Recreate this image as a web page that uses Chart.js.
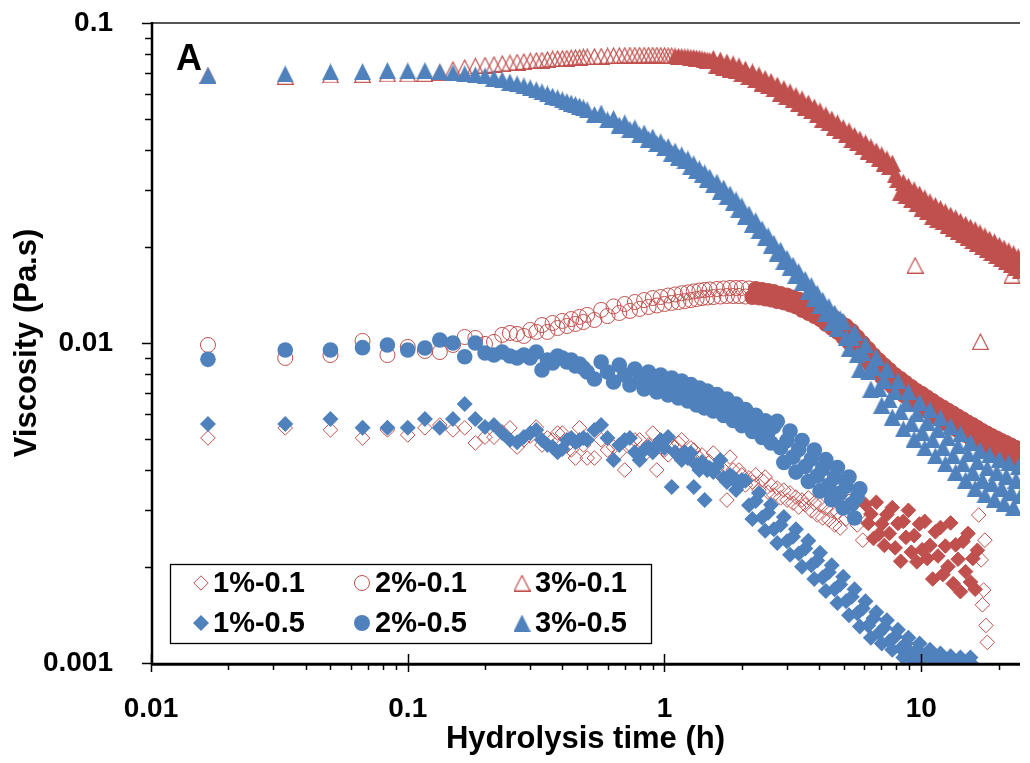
<!DOCTYPE html>
<html>
<head>
<meta charset="utf-8">
<script src="https://cdn.jsdelivr.net/npm/chart.js@4.4.1/dist/chart.umd.min.js"></script>
<style>
html,body{margin:0;padding:0;background:#fff;overflow:hidden}
canvas{display:block}
</style>
</head>
<body>
<canvas id="c" width="1030" height="763"></canvas>
<script>
// ---- data: hydrolysis time in minutes, viscosity in mPa.s (plotted in h and Pa.s) ----
const seriesNames = ['1%-0.1', '2%-0.1', '3%-0.1', '1%-0.5', '2%-0.5', '3%-0.5'];

const timeMin = [
  1, 2, 3, 4, 5, 6, 7, 8, 9, 10, 11, 12, 13, 14, 15, 16, 17, 18, 19, 20, 21, 22, 23, 24, 25, 26, 27, 28, 29, 30,
  32, 34, 36, 38, 40, 42, 44, 46, 48, 50, 52, 54, 56, 58, 60,
  62, 64, 66, 68, 70, 72, 74, 76, 78, 80, 82, 84, 86, 88, 90,
  93, 96, 99, 102, 105, 108, 111, 114, 117, 120,
  124, 128, 132, 136, 140, 144, 148, 152, 156, 160,
  165, 170, 175, 180, 185, 190, 195, 200,
  206, 212, 218, 224, 230, 236, 242, 248,
  255, 262, 269, 276, 283, 290,
  298, 306, 314, 322, 330, 338, 346,
  355, 364, 373, 382, 391,
  401, 411, 421, 431, 441, 451,
  463, 475, 487, 499, 511, 523, 535,
  549, 563, 577, 591, 605, 619, 633,
  649, 665, 681, 697, 713, 729, 745,
  763, 781, 799, 817, 835, 853,
  873, 893, 913, 933, 953, 973, 993,
  1016, 1039, 1062, 1085, 1108, 1131,
  1157, 1183, 1209, 1235, 1261, 1287,
  1316, 1345, 1374, 1403, 1432, 1461
];

const visc3pct05_mPas = [
  68.5, 69.3, 70.3, 70.5, 71.0, 70.8, 71.0, 70.3, 69.8, 69.3, 68.8, 68.3, 67.3, 66.4, 65.4, 64.5, 63.6, 62.7, 61.8, 60.9, 60.0, 59.1, 58.3, 57.5, 56.8, 56.2, 55.6, 55.0, 54.3, 53.5,
  51.8, 52.3, 49.8, 50.3, 48.0, 48.7, 46.5, 47.0, 44.7, 45.3, 43.4, 44.0, 42.0, 42.5, 40.7,
  41.1, 39.2, 39.8, 38.1, 38.7, 37.1, 37.6, 35.7, 36.3, 34.6, 35.0, 33.5, 34.0, 32.5, 33.0,
  31.2, 31.8, 29.8, 30.5, 28.6, 29.2, 27.4, 28.0, 26.2, 26.8,
  24.9, 25.3, 23.5, 24.1, 22.4, 22.7, 21.3, 21.6, 20.1, 20.5,
  19.1, 19.5, 18.0, 18.4, 17.2, 17.5, 16.3, 16.7,
  15.4, 15.8, 14.5, 15.1, 13.8, 14.3, 13.1, 13.6,
  12.4, 13.0, 11.6, 12.4, 11.1, 11.9,
  11.7, 10.4, 9.58, 10.4, 10.8, 9.19, 8.29,
  9.33, 9.86, 8.12, 7.18, 8.40,
  9.04, 7.23, 6.40, 7.66, 8.29, 6.64,
  5.87, 7.03, 7.61, 6.09, 5.39, 6.45, 7.03,
  5.62, 5.01, 6.00, 6.54, 5.27, 4.70, 5.66,
  6.18, 4.98, 4.44, 5.35, 5.83, 4.70, 4.19,
  5.05, 5.50, 4.44, 3.95, 4.77, 5.20,
  4.19, 3.73, 4.50, 4.90, 3.95, 3.52, 4.25,
  4.63, 3.73, 3.35, 4.07, 4.47, 3.63,
  3.25, 3.95, 4.34, 3.52, 3.16, 3.84,
  4.22, 3.42, 3.07, 3.73, 4.10, 3.33
];

const visc3pct01_mPas = [
  68.3, 68.1, 68.8, 69.0, 69.3, 69.3, 69.5, 70.0, 71.6, 72.6, 73.4, 73.9, 74.2, 74.7, 75.0, 75.5, 75.8, 76.1, 76.4, 76.6, 76.9, 77.2, 77.4, 77.5, 77.7, 77.9, 78.0, 78.1, 78.3, 78.4,
  78.6, 78.8, 78.9, 79.1, 79.2, 79.3, 79.4, 79.4, 79.4, 79.4, 79.4, 79.4, 79.4, 79.3, 79.2,
  79.1, 79.0, 78.9, 78.7, 78.6, 78.4, 78.3, 78.1, 78.0, 77.7, 77.5, 77.2, 76.9, 76.6, 76.4,
  77.5, 73.9, 76.6, 72.8, 75.5, 71.8, 74.5, 70.8, 73.4, 69.5,
  71.8, 68.1, 70.3, 66.6, 68.8, 64.9, 67.1, 63.6, 65.7, 62.2,
  64.0, 60.4, 62.4, 59.1, 60.9, 57.5, 59.3, 56.2,
  57.9, 54.6, 56.2, 53.1, 54.6, 51.6, 53.1, 50.1,
  51.6, 48.7, 50.1, 47.3, 48.7, 46.0,
  47.1, 44.7, 46.0, 43.2, 44.5, 42.2, 43.4,
  41.0, 42.2, 39.8, 41.0, 38.7,
  39.8, 37.6, 38.7, 36.5, 37.6, 35.5,
  36.5, 33.5, 32.5, 29.6, 31.8, 28.8, 30.9,
  28.0, 30.1, 27.2, 29.2, 26.4, 28.4, 25.7,
  27.6, 24.9, 26.9, 24.4, 26.3, 23.9, 25.7,
  23.3, 25.1, 22.8, 24.6, 22.3, 24.0,
  21.8, 23.5, 21.4, 23.0, 20.9, 22.6, 20.5,
  22.1, 20.0, 21.6, 19.6, 21.1, 19.2,
  20.7, 18.8, 20.2, 18.4, 19.8, 18.0,
  19.4, 17.6, 19.0, 17.2, 18.6, 16.9
];
const outlierMin3pct01 = [568, 1020, 1355];
const outlierVisc3pct01_mPas = [17.5, 10.1, 16.3];

const visc2pct01_mPas = [
  9.86, 8.98, 9.17, 10.15, 9.17, 9.72, 9.44, 9.37, 9.86, 10.44, 10.37, 9.93, 10.08, 10.60, 10.75, 10.67, 10.52, 10.98, 10.83, 11.38, 10.83, 11.55, 11.14, 11.72, 11.30, 11.88, 11.47, 12.06, 11.63, 12.24,
  11.80, 12.69, 12.14, 13.01, 12.41, 13.24, 12.60, 13.43, 12.78, 13.62, 12.96, 13.82, 13.10, 13.92, 13.24,
  14.07, 13.34, 14.18, 13.43, 14.30, 13.52, 14.39, 13.62, 14.49, 13.72, 14.59, 13.82, 14.65, 13.87, 14.70,
  13.92, 14.75, 13.97, 14.81, 14.02, 14.86, 14.02, 14.86, 14.02, 14.86,
  13.97, 14.81, 13.92, 14.75, 13.87, 14.65, 13.77, 14.54, 13.67, 14.43,
  13.52, 14.23, 13.39, 14.07, 13.19, 13.87, 13.01, 13.67,
  12.69, 13.48, 12.41, 13.19, 12.14, 12.91, 11.88, 12.60,
  11.47, 12.32, 11.14, 11.97, 10.83, 11.63,
  10.41, 11.30, 10.04, 10.91, 9.65, 10.44, 9.24,
  10.00, 8.85, 9.58, 8.48, 9.17,
  8.12, 8.82, 7.83, 8.51, 7.55, 8.24,
  7.31, 7.94, 7.08, 7.72, 6.88, 7.50, 6.68,
  7.29, 6.49, 7.08, 6.33, 6.93, 6.18, 6.76,
  6.02, 6.59, 5.87, 6.42, 5.75, 6.29, 5.62,
  6.15, 5.50, 6.02, 5.39, 5.89, 5.27,
  5.77, 5.16, 5.64, 5.05, 5.54, 4.96, 5.43,
  4.85, 5.31, 4.77, 5.21, 4.68, 5.12,
  4.60, 5.03, 4.52, 4.94, 4.44, 4.87,
  4.36, 4.78, 4.28, 4.70, 4.22, 4.63
];

const visc2pct05_mPas = [
  8.89, 9.51, 9.51, 9.67, 9.86, 9.51, 9.65, 10.22, 10.00, 9.06, 10.00, 9.31, 9.17, 9.37, 9.11, 8.98, 9.17, 8.98, 9.37, 8.24, 8.85, 8.66, 9.11, 8.98, 8.72, 8.85, 8.48, 8.60, 8.35, 8.12,
  7.72, 8.72, 8.12, 7.55, 8.54, 7.94, 7.39, 8.29, 7.72, 7.18, 8.12, 7.55, 7.03, 7.94, 7.39,
  6.88, 7.77, 7.23, 6.73, 7.61, 7.08, 6.59, 7.42, 6.88, 6.40, 7.23, 6.73, 6.27, 7.08, 6.59,
  6.13, 6.90, 6.40, 5.94, 6.68, 6.18, 5.73, 6.45, 5.96, 5.52,
  6.20, 5.73, 5.29, 5.94, 5.48, 5.07, 5.71, 5.27, 4.87, 5.48,
  5.69, 4.71, 4.23, 4.96, 5.31, 4.40, 3.95, 4.65,
  4.96, 4.11, 3.69, 4.34, 4.63, 3.84, 3.45, 4.05,
  4.32, 3.59, 3.24, 3.80, 4.08, 3.39,
  3.05, 3.57, 3.81, 3.14, 2.84, 3.30, 3.50,
  null, null, null, null, null,
  null, null, null, null, null, null,
  null, null, null, null, null, null, null,
  null, null, null, null, null, null, null,
  null, null, null, null, null, null, null,
  null, null, null, null, null, null,
  null, null, null, null, null, null, null,
  null, null, null, null, null, null,
  null, null, null, null, null, null,
  null, null, null, null, null, null
];

const visc1pct05_mPas = [
  5.58, 5.58, 5.79, 5.43, 5.43, 5.43, 5.79, 5.43, 5.79, 6.45, 5.79, 5.46, 5.54, 5.23, 4.98, 4.90, 5.08, 5.23, 5.35, 4.98, 4.80, 4.73, 4.56, 4.66, 4.98, 5.05, 4.90, 4.98, 5.05, 4.98,
  5.35, 5.54, 5.05, 4.31, 4.80, 4.98, 5.05, 4.56, 4.31, 4.63, 4.73, 4.56, 4.80, 4.98, 4.70,
  5.08, 3.55, 4.56, 4.44, 4.31, 4.56, 4.37, 4.53, 3.55, 4.16, 4.01, 4.25, 3.23, 4.01, 4.07,
  3.95, 4.13, 4.31, 3.79, 3.68, 3.87, 3.81, 3.47, 3.60, 3.73,
  3.71, 3.11, 2.82, 3.21, 3.40, 2.85, 2.59, 2.95, 3.12, 2.62,
  2.37, 2.70, 2.86, 2.40, 2.18, 2.48, 2.62, 2.20,
  2.00, 2.28, 2.41, 2.02, 1.83, 2.09, 2.21, 1.85,
  1.68, 1.92, 2.02, 1.70, 1.54, 1.76,
  1.86, 1.56, 1.41, 1.61, 1.70, 1.43, 1.30,
  1.48, 1.56, 1.31, 1.20, 1.38,
  1.44, 1.24, 1.15, 1.29, 1.36, 1.17,
  1.10, 1.21, 1.27, 1.11, 1.04, 1.15, 1.20,
  1.07, 1.01, 1.10, 1.15, 1.03, 0.979, 1.07,
  1.10, 1.01, 0.965, 1.04, 1.07, 0.995, 0.951,
  1.02, 1.05, 0.986, 0.958, 1.01, 1.04,
  0.986, 0.958, 1.01, 1.04, 0.986, null, null,
  null, null, null, null, null, null,
  null, null, null, null, null, null,
  null, null, null, null, null, null
];

const visc1pct01_mPas = [
  5.05, 5.43, 5.35, 5.05, 5.35, 5.16, 5.43, 5.54, 5.35, 5.43, 4.87, 5.08, 5.08, 5.27, 5.43, 4.73, 4.98, 5.12, 5.46, 4.80, 5.05, 4.98, 5.23, 5.23, 4.77, 4.63, 4.37, 5.43, 4.80, 4.37,
  4.37, 4.98, 4.63, 4.73, 4.56, 4.01, 4.80, 4.98, 4.98, 4.47, 4.80, 5.23, 4.01, 4.73, 4.63,
  4.47, 4.80, 4.73, 4.87, 4.98, 4.47, 4.37, 4.70, 4.63, 4.25, 4.37, 4.47, 4.13, 4.01, 4.25,
  4.53, 4.07, 3.87, 4.01, 3.23, 4.40, 4.01, 3.73, 4.01, 3.87,
  3.60, 3.79, 3.68, 3.87, 3.47, 3.73, 3.81, 3.42, 3.60, 3.35,
  3.52, 3.28, 3.47, 3.23, 3.40, 3.16, 3.30, 3.07,
  3.23, 3.12, 3.28, 2.99, 3.16, 2.90, 3.12, 2.84,
  3.05, 2.80, 2.99, 2.70, 2.96, 2.64,
  3.12, 2.82, 3.20, 2.89, 3.24, 2.70, 2.94,
  2.42, 3.13, 2.73, 2.92, 2.45,
  3.18, 2.53, 2.72, 2.33, 2.91, 2.54,
  3.06, 2.29, 2.73, 2.08, 2.77, 2.47, 3.00,
  2.22, 2.50, 2.07, 2.72, 2.26, 2.77, 2.12,
  2.33, 1.83, 2.57, 2.16, 2.65, 1.89, 2.32,
  2.00, 2.74, 1.77, 2.34, 2.11, 1.67,
  2.40, 1.93, 2.54, 1.79, 2.12, 1.70, 2.25,
  3.47, 1.52, 2.42, 1.16, null, null,
  null, null, null, null, null, null,
  null, null, null, null, null, null
];
const extraMin1pct01 = [1005, 1027, 1050, 1072];
const extraVisc1pct01_mPas = [2.90, 2.10, 1.69, 1.31];

// ---- styling ----
const BLUE = '#4F81BD';
const RED = '#C0504D';
const FONT = "'Liberation Sans', Arial, Helvetica, sans-serif";
// time ranges (h) where the 1-minute sampling makes the open red markers merge into a solid band
const denseFromHours = { '1%-0.1': 6.0, '2%-0.1': 2.2, '3%-0.1': 1.1 };
const denseUntilHours = { '1%-0.1': 16.6, '2%-0.1': 99, '3%-0.1': 99 };

function toPoints(mins, valsMPas, isolated) {
  const out = [];
  for (let i = 0; i < mins.length; i++) {
    const v = valsMPas[i];
    if (v !== null && v !== undefined) {
      const p = { x: mins[i] / 60, y: v / 1000 };
      if (isolated) p.iso = true;
      out.push(p);
    }
  }
  return out;
}

function triangleImage(fill, stroke, lw) {
  const w = 17, h = 17;
  const c = document.createElement('canvas');
  c.width = w; c.height = h;
  const g = c.getContext('2d');
  g.beginPath();
  if (fill) {
    g.moveTo(w / 2, 0); g.lineTo(w, h); g.lineTo(0, h); g.closePath();
    g.fillStyle = fill; g.fill();
  } else {
    const m = lw / 2 + 0.1;
    g.moveTo(w / 2, m + 0.4); g.lineTo(w - m, h - m); g.lineTo(m, h - m); g.closePath();
    g.strokeStyle = stroke; g.lineWidth = lw; g.stroke();
  }
  return c;
}
const triBlue = triangleImage(BLUE, null, 0);
const triRed = triangleImage(null, RED, 1.2);
const triRedDense = triangleImage(RED, null, 0);

function isDense(ctx) {
  const name = ctx.dataset.label;
  const p = ctx.raw;
  return !!p && !p.iso && p.x >= denseFromHours[name] && p.x <= denseUntilHours[name];
}

function isDecade(v) {
  const l = Math.log10(v);
  return Math.abs(l - Math.round(l)) < 1e-6;
}
function decadeLabel(v) {
  return isDecade(v) ? String(Number(Number(v).toPrecision(6))) : '';
}

const axesPlugin = {
  id: 'axesPlugin',
  afterDatasetsDraw(chart) {
    const { ctx, chartArea: a, scales } = chart;
    const xs = scales.x, ys = scales.y;
    ctx.save();
    ctx.strokeStyle = '#555';
    ctx.lineWidth = 2;
    ctx.beginPath(); ctx.moveTo(a.left, a.top); ctx.lineTo(a.right, a.top); ctx.stroke();
    ctx.strokeStyle = '#000';
    ctx.lineWidth = 1.5;
    for (let e = -3; e <= -1; e++) {
      for (let m = 1; m <= 9; m++) {
        const v = m * Math.pow(10, e);
        if (v > 0.1 * 1.0001) continue;
        const py = Math.round(ys.getPixelForValue(v)) + 0.5;
        const len = m === 1 ? 9 : 6;
        ctx.beginPath(); ctx.moveTo(a.left - len, py); ctx.lineTo(a.left, py); ctx.stroke();
      }
    }
    for (let e = -2; e <= 1; e++) {
      for (let m = 1; m <= 9; m++) {
        const v = m * Math.pow(10, e);
        if (v > xs.max) continue;
        const px = Math.round(xs.getPixelForValue(v)) + 0.5;
        ctx.beginPath();
        if (m === 1) { ctx.moveTo(px, a.bottom - 9); ctx.lineTo(px, a.bottom + 9); }
        else { ctx.moveTo(px, a.bottom); ctx.lineTo(px, a.bottom + 7); }
        ctx.stroke();
      }
    }
    ctx.lineWidth = 2.5;
    ctx.beginPath(); ctx.moveTo(a.left + 1, a.top - 1); ctx.lineTo(a.left + 1, a.bottom + 2); ctx.stroke();
    ctx.lineWidth = 3;
    ctx.beginPath(); ctx.moveTo(a.left, a.bottom + 1.3); ctx.lineTo(a.right, a.bottom + 1.3); ctx.stroke();
    ctx.restore();
  },
  afterDraw(chart) {
    const ctx = chart.ctx;
    ctx.save();
    ctx.fillStyle = '#000';
    ctx.font = 'bold 36px ' + FONT;
    ctx.textAlign = 'left';
    ctx.textBaseline = 'alphabetic';
    ctx.fillText('A', 176, 70);
    const bx = 170, by = 564, bw = 482, bh = 80;
    ctx.fillStyle = '#fff';
    ctx.fillRect(bx, by, bw, bh);
    ctx.strokeStyle = '#000';
    ctx.lineWidth = 1.3;
    ctx.strokeRect(bx + 0.5, by + 0.5, bw - 1, bh - 1);
    const cols = [201, 362, 522];
    const textX = [213, 375, 535];
    const rows = [583, 623];
    ctx.font = 'bold 29px ' + FONT;
    ctx.textBaseline = 'middle';
    for (let i = 0; i < 6; i++) {
      const r = i < 3 ? 0 : 1;
      const c = i % 3;
      const x = cols[c], y = rows[r];
      const filled = r === 1;
      ctx.beginPath();
      if (c === 0) {
        const s = filled ? 8 : 7.2;
        ctx.moveTo(x, y - s); ctx.lineTo(x + s, y); ctx.lineTo(x, y + s); ctx.lineTo(x - s, y); ctx.closePath();
      } else if (c === 1) {
        ctx.arc(x, y, filled ? 8 : 7.5, 0, Math.PI * 2);
      }
      if (c === 2) {
        const img = filled ? triBlue : triRed;
        ctx.drawImage(img, x - img.width / 2, y - img.height / 2);
      } else if (filled) {
        ctx.fillStyle = BLUE; ctx.fill();
      } else {
        ctx.strokeStyle = RED; ctx.lineWidth = 1; ctx.stroke();
      }
      ctx.fillStyle = '#000';
      ctx.fillText(seriesNames[i], textX[c], y + 1);
    }
    ctx.restore();
  }
};

const fillStyle = { backgroundColor: BLUE, borderColor: BLUE, borderWidth: 0 };
const openStyle = { backgroundColor: (ctx) => (isDense(ctx) ? RED : 'rgba(0,0,0,0)'), borderColor: RED, borderWidth: 1 };

const datasets = [
  Object.assign({ label: seriesNames[3], data: toPoints(timeMin, visc1pct05_mPas), pointStyle: 'rectRot', pointRadius: 8, order: 0 }, fillStyle),
  Object.assign({ label: seriesNames[4], data: toPoints(timeMin, visc2pct05_mPas), pointStyle: 'circle', pointRadius: 7.8, order: 0 }, fillStyle),
  Object.assign({ label: seriesNames[5], data: toPoints(timeMin, visc3pct05_mPas), pointStyle: triBlue, pointRadius: 9, order: 0 }, fillStyle),
  Object.assign({ label: seriesNames[0], data: toPoints(timeMin, visc1pct01_mPas).concat(toPoints(extraMin1pct01, extraVisc1pct01_mPas, true)), pointStyle: 'rectRot', pointRadius: 7.3, order: 1 }, openStyle),
  Object.assign({ label: seriesNames[1], data: toPoints(timeMin, visc2pct01_mPas), pointStyle: 'circle', pointRadius: 7.5, order: 1 }, openStyle),
  Object.assign({ label: seriesNames[2], data: toPoints(timeMin, visc3pct01_mPas).concat(toPoints(outlierMin3pct01, outlierVisc3pct01_mPas, true)), pointStyle: (ctx) => (isDense(ctx) ? triRedDense : triRed), pointRadius: 9, order: 1 }, openStyle)
];
datasets.forEach(d => { d.showLine = false; d.clip = 0; d.pointHoverRadius = d.pointRadius; });

new Chart(document.getElementById('c'), {
  type: 'scatter',
  data: { datasets },
  options: {
    responsive: false,
    devicePixelRatio: 1,
    animation: false,
    events: [],
    layout: { padding: { top: 23, right: 0, left: 0, bottom: 0 } },
    plugins: { legend: { display: false }, tooltip: { enabled: false } },
    scales: {
      x: {
        type: 'logarithmic', min: 0.01, max: 24.25,
        grid: { display: false }, border: { display: false },
        ticks: {
          autoSkip: false, maxRotation: 0, minRotation: 0, padding: 21.5, color: '#000',
          font: { family: FONT, size: 28, weight: 'bold' }, callback: decadeLabel
        },
        title: {
          display: true, text: 'Hydrolysis time (h)', color: '#000',
          font: { family: FONT, size: 31, weight: 'bold' }, padding: { top: 0, bottom: 5 }
        },
        afterFit(s) { s.height = 100; s.paddingLeft = 0; s.paddingRight = 0; }
      },
      y: {
        type: 'logarithmic', min: 0.001, max: 0.1,
        grid: { display: false }, border: { display: false },
        ticks: {
          autoSkip: false, padding: 30, color: '#000',
          font: { family: FONT, size: 28, weight: 'bold' }, callback: decadeLabel
        },
        title: {
          display: true, text: 'Viscosity (Pa.s)', color: '#000',
          font: { family: FONT, size: 31, weight: 'bold' }, padding: { top: 9, bottom: 0 }
        },
        afterFit(s) { s.width = 151; s.paddingTop = 0; s.paddingBottom = 0; }
      }
    }
  },
  plugins: [axesPlugin]
});
</script>
</body>
</html>
